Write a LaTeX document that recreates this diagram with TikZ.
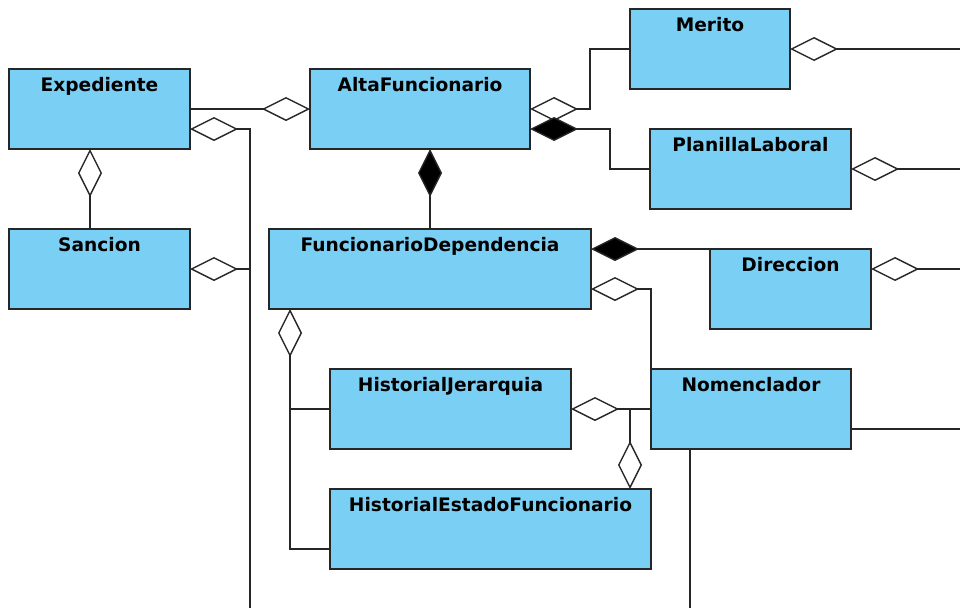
\documentclass[tikz,border=0pt]{standalone}
\usepackage{fontspec}
\setmainfont{DejaVu Sans}
\usetikzlibrary{arrows.meta}
\definecolor{classfill}{RGB}{122,207,244}
\begin{document}
\begin{tikzpicture}[x=1pt,y=-1pt,
  umlclass/.style={draw=black!85, line width=1.6pt, fill=classfill, rectangle,
    anchor=north west, inner xsep=0pt, inner ysep=0pt, outer sep=0pt,
    minimum height=80pt, text height=22pt, text depth=58pt,
    font=\fontsize{18.6}{20}\selectfont\bfseries},
  link/.style={draw=black!85, line width=1.4pt, line join=miter},
  aggr/.style={link, {Diamond[length=48pt,width=24pt,fill=white,line join=miter]}-},
  comp/.style={link, {Diamond[length=48pt,width=24pt,fill=black,line join=miter]}-}
]
\useasboundingbox (0,0) rectangle (960,608);

% classes
\node[umlclass, minimum width=181pt] (exp)       at (9,69)    {Expediente};
\node[umlclass, minimum width=220pt] (alta)      at (310,69)  {AltaFuncionario};
\node[umlclass, minimum width=160pt] (merito)    at (630,9)   {Merito};
\node[umlclass, minimum width=201pt] (planilla)  at (650,129) {PlanillaLaboral};
\node[umlclass, minimum width=181pt] (sancion)   at (9,229)   {Sancion};
\node[umlclass, minimum width=322pt] (fd)        at (269,229) {FuncionarioDependencia};
\node[umlclass, minimum width=161pt] (direccion) at (710,249) {Direccion};
\node[umlclass, minimum width=241pt] (hj)        at (330,369) {HistorialJerarquia};
\node[umlclass, minimum width=321pt] (hef)       at (330,489) {HistorialEstadoFuncionario};
\node[umlclass, minimum width=200pt] (nomen)     at (651,369) {Nomenclador};

% free ends of lines leaving the sheet
\coordinate (busL)   at (250,608);
\coordinate (outM)   at (960,49);
\coordinate (outP)   at (960,169);
\coordinate (outD)   at (960,269);
\coordinate (outN)   at (960,429);
\coordinate (downN)  at (690,608);
\coordinate (jFD)    at (290,409);
\coordinate (jNom)   at (630,409);

% associations
\draw[aggr] (alta.west) -- (exp.east);
\draw[aggr] ([yshift=-20pt]exp.east) -| (busL);
\draw[aggr] (sancion.east) -- (sancion.east -| busL);
\draw[aggr] ([xshift=-9.5pt]exp.south) -- ([xshift=-9.5pt]sancion.north);
\draw[comp] (alta.south -| fd.north) -- (fd.north);
\draw[aggr] (alta.east) -- ++(60,0) |- (merito.west);
\draw[comp] ([yshift=-20pt]alta.east) -- ++(80,0) |- (planilla.west);
\draw[aggr] (merito.east) -- (outM);
\draw[aggr] (planilla.east) -- (outP);
\draw[comp] ([yshift=20pt]fd.east) -- (direccion.north west);
\draw[aggr] ([yshift=-20pt]fd.east) -| (nomen.north west);
\draw[aggr] ([yshift=20pt]direccion.east) -- (outD);
\draw[aggr] (fd.south -| jFD) |- ([yshift=-20pt]hef.west);
\draw[link] (jFD) -- (hj.west);
\draw[aggr] (hj.east) -- (nomen.west);
\draw[aggr] (hef.north -| jNom) -- (jNom);
\draw[link] ([yshift=-20pt]nomen.east) -- (outN);
\draw[link] (nomen.south -| downN) -- (downN);
\end{tikzpicture}
\end{document}
